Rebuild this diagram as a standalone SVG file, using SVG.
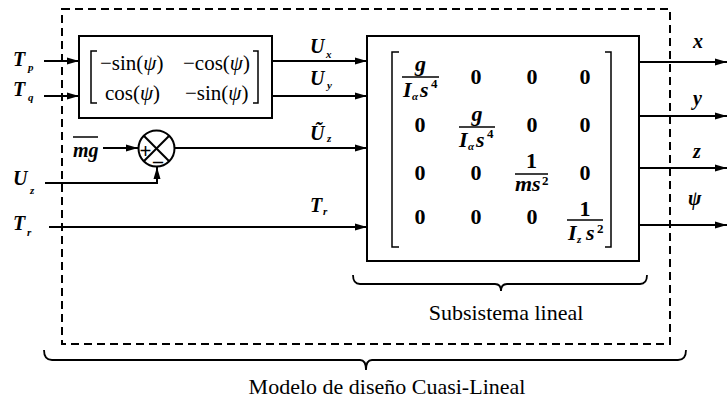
<svg xmlns="http://www.w3.org/2000/svg" width="728" height="402" viewBox="0 0 728 402">
  <defs>
    <marker id="arrow" viewBox="0 0 12 8" refX="12" refY="4" markerWidth="12" markerHeight="8" markerUnits="userSpaceOnUse" orient="auto">
      <path d="M0,0.5 L12,4 L0,7.5 z" fill="#000"/>
    </marker>
    <style>
      .box { fill: #fff; stroke: #000; stroke-width: 2; }
      .dash { fill: none; stroke: #000; stroke-width: 2; stroke-dasharray: 8 5; }
      .wire { fill: none; stroke: #000; stroke-width: 2; marker-end: url(#arrow); }
      .thin { fill: none; stroke: #000; stroke-width: 1.5; }
      .brace { fill: none; stroke: #000; stroke-width: 1.8; }
      text { font-family: "Liberation Serif", "Times New Roman", serif; fill: #000; }
      .var { font-size: 20px; font-weight: bold; font-style: italic; }
      .sub { font-size: 11px; font-weight: bold; font-style: italic; }
      .rot { font-size: 21px; }
      .it { font-style: italic; }
      .num { font-size: 22px; font-weight: bold; text-anchor: middle; }
      .fr { font-size: 22px; font-weight: bold; font-style: italic; }
      .sup { font-size: 13px; font-weight: bold; }
      .cap { font-size: 22px; text-anchor: middle; }
    </style>
  </defs>

  <!-- outer dashed boundary of the design model -->
  <rect id="model" class="dash" x="62" y="9" width="608" height="335"/>

  <!-- connectors -->
  <g id="connectors">
    <path class="wire" d="M44,61 H79"/>
    <path class="wire" d="M44,96 H79"/>
    <path class="wire" d="M272,61 H367"/>
    <path class="wire" d="M272,96 H367"/>
    <path class="wire" d="M103,148 H138"/>
    <path class="wire" d="M45,183 H157 V167"/>
    <path class="wire" d="M175,148 H367"/>
    <path class="wire" d="M49,227 H367"/>
    <path class="wire" d="M639,62 H727"/>
    <path class="wire" d="M639,116 H727"/>
    <path class="wire" d="M639,168 H727"/>
    <path class="wire" d="M639,225 H727"/>
  </g>

  <!-- input labels -->
  <g id="inputs">
    <text class="var" x="13" y="66">T</text><text class="sub" x="28" y="71">p</text>
    <text class="var" x="13" y="96">T</text><text class="sub" x="28" y="101">q</text>
    <text class="var" x="13" y="185">U</text><text class="sub" x="30" y="194">z</text>
    <text class="var" x="13" y="230">T</text><text class="sub" x="27" y="236">r</text>
    <text class="var" x="73" y="157">mg</text>
    <line class="thin" x1="73" y1="137" x2="98" y2="137"/>
  </g>

  <!-- rotation block -->
  <g id="rotation">
    <rect class="box" x="79" y="36" width="193" height="82"/>
    <path class="thin" d="M97,51 H91 V103 H97"/>
    <path class="thin" d="M253,51 H258 V103 H253"/>
    <text class="rot" x="100" y="70">−sin(<tspan class="it">ψ</tspan>)</text>
    <text class="rot" x="183" y="70">−cos(<tspan class="it">ψ</tspan>)</text>
    <text class="rot" x="105" y="100">cos(<tspan class="it">ψ</tspan>)</text>
    <text class="rot" x="185" y="100">−sin(<tspan class="it">ψ</tspan>)</text>
  </g>

  <!-- summing junction -->
  <g id="sum">
    <circle cx="156.5" cy="148.5" r="18" fill="#fff" stroke="#000" stroke-width="2"/>
    <line x1="143.8" y1="135.8" x2="169.2" y2="161.2" stroke="#000" stroke-width="2"/>
    <line x1="169.2" y1="135.8" x2="143.8" y2="161.2" stroke="#000" stroke-width="2"/>
    <text x="145.5" y="158" style="font-size:21px;font-weight:bold;text-anchor:middle">+</text>
    <text x="158" y="168" style="font-size:20px;font-weight:bold;text-anchor:middle">–</text>
  </g>

  <!-- signal labels between blocks -->
  <g id="signals">
    <text class="var" x="310" y="53">U</text><text class="sub" x="326" y="58">x</text>
    <text class="var" x="310" y="85">U</text><text class="sub" x="327" y="89">y</text>
    <text class="var" x="310" y="140">Ũ</text><text class="sub" x="327" y="142">z</text>
    <text class="var" x="310" y="212">T</text><text class="sub" x="323" y="215">r</text>
  </g>

  <!-- linear subsystem block -->
  <g id="linear">
    <rect class="box" x="367" y="36" width="272" height="225"/>
    <path class="thin" d="M399,52 H392 V247 H399"/>
    <path class="thin" d="M605,52 H611 V247 H605"/>

    <!-- row 1 -->
    <text class="fr" x="420.5" y="71" text-anchor="middle">g</text>
    <line class="thin" x1="402" y1="77" x2="439" y2="77"/>
    <text class="fr" x="403" y="97">I</text><text class="sub" x="412" y="100">α</text>
    <text class="fr" x="420" y="97">s</text><text class="sup" x="431" y="88">4</text>
    <text class="num" x="476" y="84">0</text>
    <text class="num" x="532" y="84">0</text>
    <text class="num" x="585" y="84">0</text>

    <!-- row 2 -->
    <text class="num" x="420" y="132">0</text>
    <text class="fr" x="477" y="121" text-anchor="middle">g</text>
    <line class="thin" x1="459" y1="127" x2="495" y2="127"/>
    <text class="fr" x="459" y="147">I</text><text class="sub" x="468" y="150">α</text>
    <text class="fr" x="476" y="147">s</text><text class="sup" x="487" y="138">4</text>
    <text class="num" x="532" y="132">0</text>
    <text class="num" x="585" y="132">0</text>

    <!-- row 3 -->
    <text class="num" x="420" y="180">0</text>
    <text class="num" x="476" y="180">0</text>
    <text class="num" x="531.5" y="168">1</text>
    <line class="thin" x1="515" y1="174" x2="548" y2="174"/>
    <text class="fr" x="515" y="191">ms</text><text class="sup" x="542" y="185">2</text>
    <text class="num" x="585" y="180">0</text>

    <!-- row 4 -->
    <text class="num" x="420" y="224">0</text>
    <text class="num" x="476" y="224">0</text>
    <text class="num" x="532" y="224">0</text>
    <text class="num" x="585" y="216">1</text>
    <line class="thin" x1="567" y1="220" x2="603" y2="220"/>
    <text class="fr" x="568" y="240">I</text><text class="sub" x="577" y="243">z</text>
    <text class="fr" x="586" y="240">s</text><text class="sup" x="597" y="233">2</text>
  </g>

  <!-- output labels -->
  <g id="outputs">
    <text class="var" x="693" y="48">x</text>
    <text class="var" x="693" y="105">y</text>
    <text class="var" x="693" y="158">z</text>
    <text class="var" x="688" y="205">ψ</text>
  </g>

  <!-- braces and captions -->
  <g id="subsystem-caption">
    <path class="brace" d="M353,275 Q353,284 360,284 H495 Q501,284 501,291 Q501,284 507,284 H640 Q647,284 647,275"/>
    <text class="cap" x="506" y="320">Subsistema lineal</text>
  </g>
  <g id="model-caption">
    <path class="brace" d="M44,350 Q44,360 52,360 H360 Q366,360 366,370 Q366,360 372,360 H678 Q686,360 686,350"/>
    <text class="cap" x="387" y="394">Modelo de diseño Cuasi-Lineal</text>
  </g>
</svg>
